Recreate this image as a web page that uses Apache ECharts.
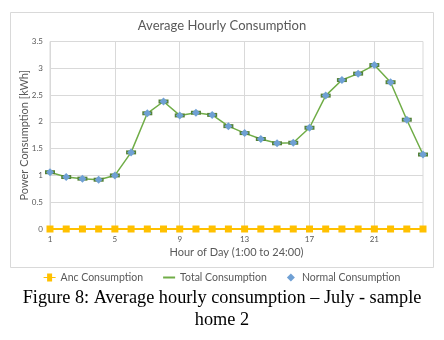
<!DOCTYPE html>
<html>
<head>
<meta charset="utf-8">
<script src="https://cdn.jsdelivr.net/npm/echarts@6/dist/echarts.min.js"></script>
<style>
  html, body { margin: 0; padding: 0; background: #fff; }
  #chart { width: 444px; height: 340px; }
</style>
</head>
<body>
<div id="chart"></div>
<script>
// hours 1..24
const hours = Array.from({ length: 24 }, (_, i) => String(i + 1))
const ancConsumption = [0, 0, 0, 0, 0, 0, 0, 0, 0, 0, 0, 0, 0, 0, 0, 0, 0, 0, 0, 0, 0, 0, 0, 0]
const totalConsumption = [1.06, 0.97, 0.94, 0.92, 1.0, 1.43, 2.16, 2.38, 2.12, 2.17, 2.13, 1.92,
  1.79, 1.68, 1.6, 1.61, 1.89, 2.49, 2.78, 2.9, 3.06, 2.74, 2.04, 1.39]
const normalConsumption = totalConsumption.slice()
const yTicks = [0, 0.5, 1, 1.5, 2, 2.5, 3, 3.5]

const chart = echarts.init(document.getElementById('chart'))
const font = 'Lato'
const gray = '#595959'

chart.setOption({
  backgroundColor: '#fff',
  animation: false,
  title: {
    text: 'Average Hourly Consumption',
    left: 'center', top: 14,
    textStyle: { fontFamily: font, fontSize: 13, fontWeight: 'normal', color: gray }
  },
  graphic: [
    {
      type: 'rect',
      shape: { x: 10.5, y: 12.5, width: 423, height: 255 },
      style: { fill: 'none', stroke: '#d9d9d9', lineWidth: 1 },
      silent: true
    },
    {
      type: 'text',
      x: 222, y: 287,
      style: {
        text: 'Figure 8: Average hourly consumption – July - sample\nhome 2',
        align: 'center',
        verticalAlign: 'top',
        font: '18.3px "Liberation Serif"',
        lineHeight: 22,
        fill: '#000'
      },
      silent: true
    }
  ],
  legend: {
    top: 267,
    left: 'center',
    itemGap: 20,
    itemWidth: 12,
    itemHeight: 8,
    textStyle: { fontFamily: font, fontSize: 10.5, color: gray },
    data: [
      { name: 'Anc Consumption', icon: 'path://M0,3.5H3.5V0H8.5V3.5H12V4.5H8.5V8H3.5V4.5H0Z', itemStyle: { color: '#FFC000' } },
      { name: 'Total Consumption', icon: 'path://M0,3H12V5H0Z', itemStyle: { color: '#70AD47' } },
      { name: 'Normal Consumption', icon: 'path://M6,1.5L8.5,4L6,6.5L3.5,4Z', itemStyle: { color: '#6FA0D4' } }
    ]
  },
  grid: {
    left: 50, right: 21, top: 41.5, bottom: 111,
    show: true, borderColor: '#d9d9d9', borderWidth: 1
  },
  xAxis: {
    type: 'category',
    data: hours,
    boundaryGap: false,
    name: 'Hour of Day (1:00 to 24:00)',
    nameLocation: 'middle',
    nameGap: 18,
    nameMoveOverlap: false,
    nameTextStyle: { fontFamily: font, fontSize: 11, color: gray },
    axisLine: { show: false },
    axisTick: { show: false },
    axisLabel: { interval: 3, fontFamily: font, fontSize: 8, color: gray, margin: 6 },
    splitLine: { show: true, interval: 3, lineStyle: { color: '#d9d9d9', width: 1 } }
  },
  yAxis: {
    type: 'value',
    min: yTicks[0],
    max: yTicks[yTicks.length - 1],
    interval: 0.5,
    name: 'Power Consumption [kWh]',
    nameLocation: 'middle',
    nameGap: 20,
    nameMoveOverlap: false,
    nameTextStyle: { fontFamily: font, fontSize: 11, color: gray },
    axisLine: { show: false },
    axisTick: { show: false },
    axisLabel: { fontFamily: font, fontSize: 8, color: gray, margin: 7 },
    splitLine: { lineStyle: { color: '#d9d9d9', width: 1 } }
  },
  series: [
    {
      name: 'Anc Consumption',
      type: 'line',
      data: ancConsumption,
      color: '#FFC000',
      lineStyle: { color: '#FFC000', width: 2 },
      symbol: 'rect',
      symbolSize: 7,
      itemStyle: { color: '#FFC000' },
      z: 3
    },
    {
      name: 'Total Consumption',
      type: 'line',
      data: totalConsumption,
      color: '#70AD47',
      lineStyle: { color: '#70AD47', width: 1.5 },
      symbol: 'rect',
      symbolSize: [10, 4],
      itemStyle: { color: '#548235' },
      z: 3
    },
    {
      name: 'Normal Consumption',
      type: 'line',
      data: normalConsumption,
      color: '#5B9BD5',
      lineStyle: { width: 0, opacity: 0 },
      symbol: 'diamond',
      symbolSize: 8,
      itemStyle: { color: '#6FA0D4' },
      z: 4
    }
  ]
})
</script>
</body>
</html>
